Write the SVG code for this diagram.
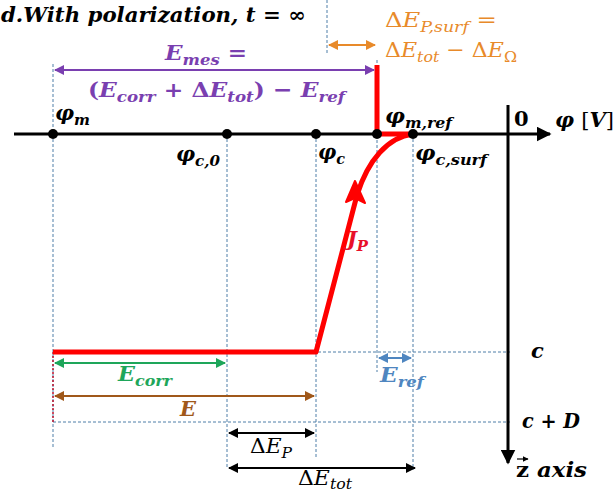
<svg xmlns="http://www.w3.org/2000/svg" width="614" height="492" viewBox="0 0 614 492">
<style>
.t{font-family:"DejaVu Serif","Liberation Serif",serif;font-style:italic;font-weight:bold;font-size:21px}
.n{font-family:"DejaVu Serif","Liberation Serif",serif;font-style:italic;font-weight:normal;font-size:21px}
.s{font-size:15px}
.up{font-style:normal}
.dash{stroke:#4f7fa8;stroke-width:1;stroke-dasharray:3,2;fill:none}
.dot{fill:#000}
</style>
<defs>
<marker id="ak" viewBox="0 0 10 10" refX="9" refY="5" markerWidth="5" markerHeight="5" orient="auto-start-reverse"><path d="M0,0 L10,5 L0,10 z" fill="#000"/></marker>
<marker id="ap" viewBox="0 0 10 10" refX="9" refY="5" markerWidth="5" markerHeight="5" orient="auto-start-reverse"><path d="M0,0 L10,5 L0,10 z" fill="#7a3fb0"/></marker>
<marker id="ao" viewBox="0 0 10 10" refX="9" refY="5" markerWidth="5" markerHeight="5" orient="auto-start-reverse"><path d="M0,0 L10,5 L0,10 z" fill="#e88a2a"/></marker>
<marker id="ag" viewBox="0 0 10 10" refX="9" refY="5" markerWidth="5" markerHeight="5" orient="auto-start-reverse"><path d="M0,0 L10,5 L0,10 z" fill="#1ea65a"/></marker>
<marker id="ab" viewBox="0 0 10 10" refX="9" refY="5" markerWidth="5" markerHeight="5" orient="auto-start-reverse"><path d="M0,0 L10,5 L0,10 z" fill="#a0581a"/></marker>
<marker id="abl" viewBox="0 0 10 10" refX="9" refY="5" markerWidth="5" markerHeight="5" orient="auto-start-reverse"><path d="M0,0 L10,5 L0,10 z" fill="#4f86c0"/></marker>
</defs>
<rect width="614" height="492" fill="#fff"/>

<g id="guides">
<line class="dash" x1="53" y1="64" x2="53" y2="448"/>
<line class="dash" x1="227" y1="134" x2="227" y2="467"/>
<line class="dash" x1="316" y1="134" x2="316" y2="457"/>
<line class="dash" x1="377" y1="60" x2="377" y2="372"/>
<line class="dash" x1="413" y1="134" x2="413" y2="470"/>
<line class="dash" x1="327" y1="0" x2="327" y2="55"/>
<line class="dash" x1="53" y1="352" x2="510" y2="352"/>
<line class="dash" x1="53" y1="422" x2="510" y2="422"/>
<line x1="53" y1="352" x2="53" y2="422" stroke="#c0102a" stroke-width="1.5" stroke-dasharray="2,2"/>
</g>

<g id="axes">
<line x1="14" y1="134" x2="550" y2="134" stroke="#000" stroke-width="3" marker-end="url(#ak)"/>
<line x1="508" y1="105" x2="508" y2="463" stroke="#000" stroke-width="3" marker-end="url(#ak)"/>
</g>

<g id="curve">
<path d="M377,65 L377,134 L413,134" fill="none" stroke="#f00" stroke-width="5"/>
<path d="M413,134 C388,137 368,160 357,195 L316,352 L53,352" fill="none" stroke="#f00" stroke-width="5" stroke-linejoin="round"/>
<path d="M355,181 L346,202 L355,198 L365,203 z" fill="#f00" stroke="#f00" stroke-width="2" stroke-linejoin="round"/>
</g>

<g id="points">
<circle class="dot" cx="53" cy="134" r="5"/>
<circle class="dot" cx="227" cy="134" r="5"/>
<circle class="dot" cx="316" cy="134" r="5"/>
<circle class="dot" cx="377" cy="134" r="5"/>
<circle class="dot" cx="413" cy="134" r="5"/>
</g>

<g id="connectors">
<line x1="55" y1="70" x2="374" y2="70" stroke="#7a3fb0" stroke-width="2" marker-start="url(#ap)" marker-end="url(#ap)"/>
<line x1="329" y1="45" x2="375" y2="45" stroke="#e88a2a" stroke-width="2" marker-start="url(#ao)" marker-end="url(#ao)"/>
<line x1="55" y1="363" x2="225" y2="363" stroke="#1ea65a" stroke-width="2" marker-start="url(#ag)" marker-end="url(#ag)"/>
<line x1="55" y1="396" x2="314" y2="396" stroke="#a0581a" stroke-width="2" marker-start="url(#ab)" marker-end="url(#ab)"/>
<line x1="379" y1="358" x2="411" y2="358" stroke="#4f86c0" stroke-width="2" marker-start="url(#abl)" marker-end="url(#abl)"/>
<line x1="229" y1="433" x2="314" y2="433" stroke="#000" stroke-width="2" marker-start="url(#ak)" marker-end="url(#ak)"/>
<line x1="229" y1="468" x2="415" y2="468" stroke="#000" stroke-width="2" marker-start="url(#ak)" marker-end="url(#ak)"/>
</g>

<g id="labels">
<text class="t" x="1" y="22" font-size="22" textLength="305" lengthAdjust="spacingAndGlyphs" fill="#000">d.With polarization, <tspan>t</tspan> = ∞</text>
<text class="t" x="165" y="60" textLength="82" lengthAdjust="spacingAndGlyphs" fill="#7a3fb0">E<tspan class="s" dy="5">mes</tspan><tspan dy="-5"> =</tspan></text>
<text class="t" x="88" y="97" textLength="257" lengthAdjust="spacingAndGlyphs" fill="#7a3fb0"><tspan class="up">(</tspan>E<tspan class="s" dy="5">corr</tspan><tspan dy="-5" class="up"> + Δ</tspan>E<tspan class="s" dy="5">tot</tspan><tspan dy="-5" class="up">) − </tspan>E<tspan class="s" dy="5">ref</tspan></text>
<text class="n" x="385" y="27" textLength="112" lengthAdjust="spacingAndGlyphs" fill="#e88a2a"><tspan class="up">Δ</tspan>E<tspan class="s" dy="5">P,surf</tspan><tspan dy="-5" class="up"> =</tspan></text>
<text class="n" x="385" y="57" textLength="132" lengthAdjust="spacingAndGlyphs" fill="#e88a2a"><tspan class="up">Δ</tspan>E<tspan class="s" dy="5">tot</tspan><tspan dy="-5" class="up"> − Δ</tspan>E<tspan class="s up" dy="5">Ω</tspan></text>
<text class="t" x="55" y="120" textLength="35" lengthAdjust="spacingAndGlyphs" fill="#000">φ<tspan class="s" dy="5">m</tspan></text>
<text class="t" x="176" y="161" textLength="44" lengthAdjust="spacingAndGlyphs" fill="#000">φ<tspan class="s" dy="5">c,0</tspan></text>
<text class="t" x="318" y="159" textLength="27" lengthAdjust="spacingAndGlyphs" fill="#000">φ<tspan class="s" dy="5">c</tspan></text>
<text class="t" x="385" y="123" textLength="67" lengthAdjust="spacingAndGlyphs" fill="#000">φ<tspan class="s" dy="5">m,ref</tspan></text>
<text class="t" x="415" y="160" textLength="72" lengthAdjust="spacingAndGlyphs" fill="#000">φ<tspan class="s" dy="5">c,surf</tspan></text>
<text class="t up" x="514" y="126" font-size="17" fill="#000">0</text>
<text class="t" x="555" y="127" font-size="17" fill="#000">φ <tspan class="up" font-weight="normal">[</tspan>V<tspan class="up" font-weight="normal">]</tspan></text>
<text class="t" x="347" y="246" textLength="21" lengthAdjust="spacingAndGlyphs" fill="#e8102a">J<tspan class="s" dy="5">P</tspan></text>
<text class="t" x="531" y="358" fill="#000">c</text>
<text class="t" x="522" y="428" textLength="58" lengthAdjust="spacingAndGlyphs" fill="#000">c <tspan class="up">+</tspan> D</text>
<text class="t" x="516" y="477" textLength="71" lengthAdjust="spacingAndGlyphs" fill="#000"><tspan class="up">z</tspan> axis</text>
<line x1="517" y1="459" x2="528" y2="459" stroke="#000" stroke-width="1.2" marker-end="url(#ak)"/>
<text class="t" x="118" y="381" textLength="54" lengthAdjust="spacingAndGlyphs" fill="#1ea65a">E<tspan class="s" dy="5">corr</tspan></text>
<text class="t" x="180" y="416" fill="#a0581a">E</text>
<text class="t" x="380" y="382" textLength="44" lengthAdjust="spacingAndGlyphs" fill="#4f86c0">E<tspan class="s" dy="5">ref</tspan></text>
<text class="n" x="250" y="453" textLength="42" lengthAdjust="spacingAndGlyphs" fill="#000"><tspan class="up">Δ</tspan>E<tspan class="s" dy="5">P</tspan></text>
<text class="n" x="298" y="485" textLength="54" lengthAdjust="spacingAndGlyphs" fill="#000"><tspan class="up">Δ</tspan>E<tspan class="s" dy="4">tot</tspan></text>
</g>
</svg>
